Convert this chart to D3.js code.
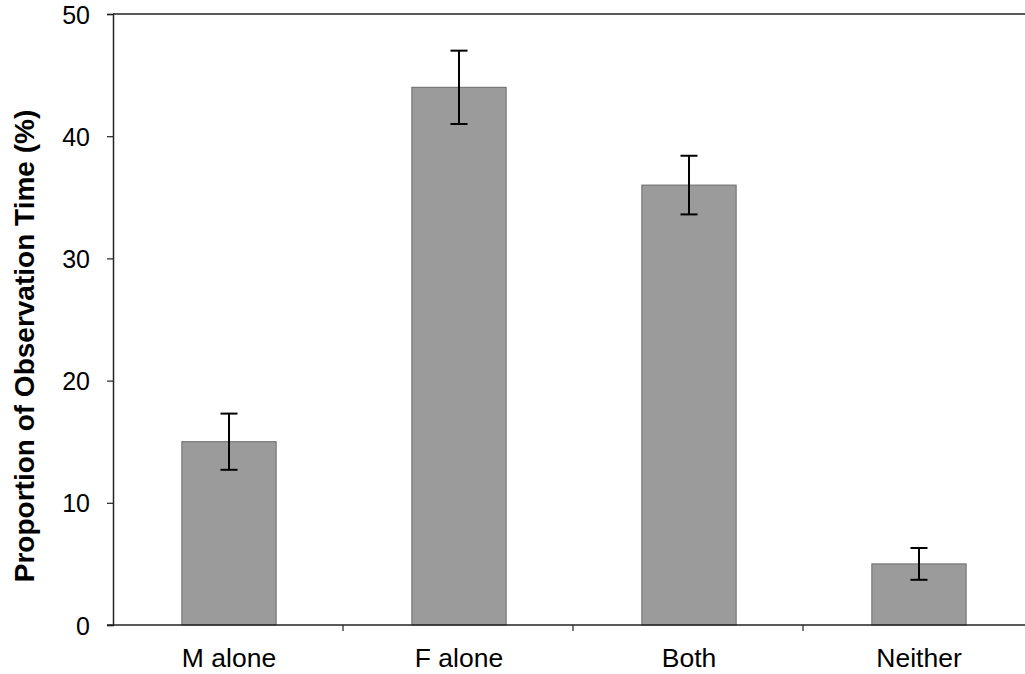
<!DOCTYPE html>
<html>
<head>
<meta charset="utf-8">
<script src="https://cdn.jsdelivr.net/npm/d3@7"></script>
<style>
  html, body { margin: 0; padding: 0; background: #fff; }
  svg { display: block; }
  text { font-family: Arial, "Liberation Sans", sans-serif; fill: #000; }
</style>
</head>
<body>
<svg id="chart" width="1025" height="674"></svg>
<script>
const categories = ["M alone", "F alone", "Both", "Neither"];
const values = [15, 44, 36, 5];
const errors = [2.3, 3.0, 2.4, 1.3];
const yTicks = [0, 10, 20, 30, 40, 50];
const yLabel = "Proportion of Observation Time (%)";

(function () {
const svg = d3.select("#chart");
const plotLeft = 113, plotTop = 14, plotBottom = 625, step = 230;
const plotRight = plotLeft + step * categories.length;

const x = d3.scaleBand()
  .domain(categories)
  .range([plotLeft, plotRight])
  .paddingInner(0.59)
  .paddingOuter(0.295);

const y = d3.scaleLinear().domain([0, 50]).range([plotBottom, plotTop]);

// bars
svg.append("g").selectAll("rect")
  .data(categories)
  .enter().append("rect")
  .attr("x", d => x(d) + 1)
  .attr("y", (d, i) => y(values[i]))
  .attr("width", x.bandwidth())
  .attr("height", (d, i) => y(0) - y(values[i]))
  .attr("fill", "#9b9b9b")
  .attr("stroke", "#6a6a6a")
  .attr("stroke-width", 1);

// error bars
const eg = svg.append("g").attr("stroke", "#000").attr("stroke-width", 2);
categories.forEach((c, i) => {
  const cx = x(c) + x.bandwidth() / 2 + 1;
  const y1 = y(values[i] + errors[i]), y2 = y(values[i] - errors[i]);
  eg.append("line").attr("x1", cx).attr("x2", cx).attr("y1", y1).attr("y2", y2);
  eg.append("line").attr("x1", cx - 8.5).attr("x2", cx + 8.5).attr("y1", y1).attr("y2", y1);
  eg.append("line").attr("x1", cx - 8.5).attr("x2", cx + 8.5).attr("y1", y2).attr("y2", y2);
});

// top frame line
svg.append("line")
  .attr("x1", plotLeft).attr("x2", 1025)
  .attr("y1", plotTop).attr("y2", plotTop)
  .attr("stroke", "#222").attr("stroke-width", 1.5);

// y axis
const yAxis = d3.axisLeft(y).tickValues(yTicks).tickSize(6).tickPadding(17);
const yg = svg.append("g").attr("transform", `translate(${plotLeft},0)`).call(yAxis);
yg.select(".domain").attr("stroke", "#222").attr("stroke-width", 1.5);
yg.selectAll(".tick line").attr("stroke", "#222").attr("stroke-width", 1.2);
yg.selectAll(".tick text").style("font-size", "25px").style("font-family", "Arial, 'Liberation Sans', sans-serif").attr("dy", "0.36em");

// x axis baseline
svg.append("line")
  .attr("x1", plotLeft - 6).attr("x2", 1025)
  .attr("y1", plotBottom).attr("y2", plotBottom)
  .attr("stroke", "#222").attr("stroke-width", 1.5);

// x category boundary ticks
const boundaries = categories.slice(1).map(c => x(c) - x.step() * x.paddingInner() / 2);
svg.append("g").selectAll("line")
  .data(boundaries)
  .enter().append("line")
  .attr("x1", d => d).attr("x2", d => d)
  .attr("y1", plotBottom).attr("y2", plotBottom + 6)
  .attr("stroke", "#222").attr("stroke-width", 1.2);

// category labels
svg.append("g").selectAll("text")
  .data(categories)
  .enter().append("text")
  .attr("x", d => x(d) + x.bandwidth() / 2 + 1)
  .attr("y", 667)
  .attr("text-anchor", "middle")
  .style("font-size", "26.5px")
  .text(d => d);

// y label
svg.append("text")
  .attr("transform", "translate(34,346) rotate(-90)")
  .attr("text-anchor", "middle")
  .style("font-size", "28px")
  .style("font-weight", "bold")
  .text(yLabel);
})();
</script>
</body>
</html>
